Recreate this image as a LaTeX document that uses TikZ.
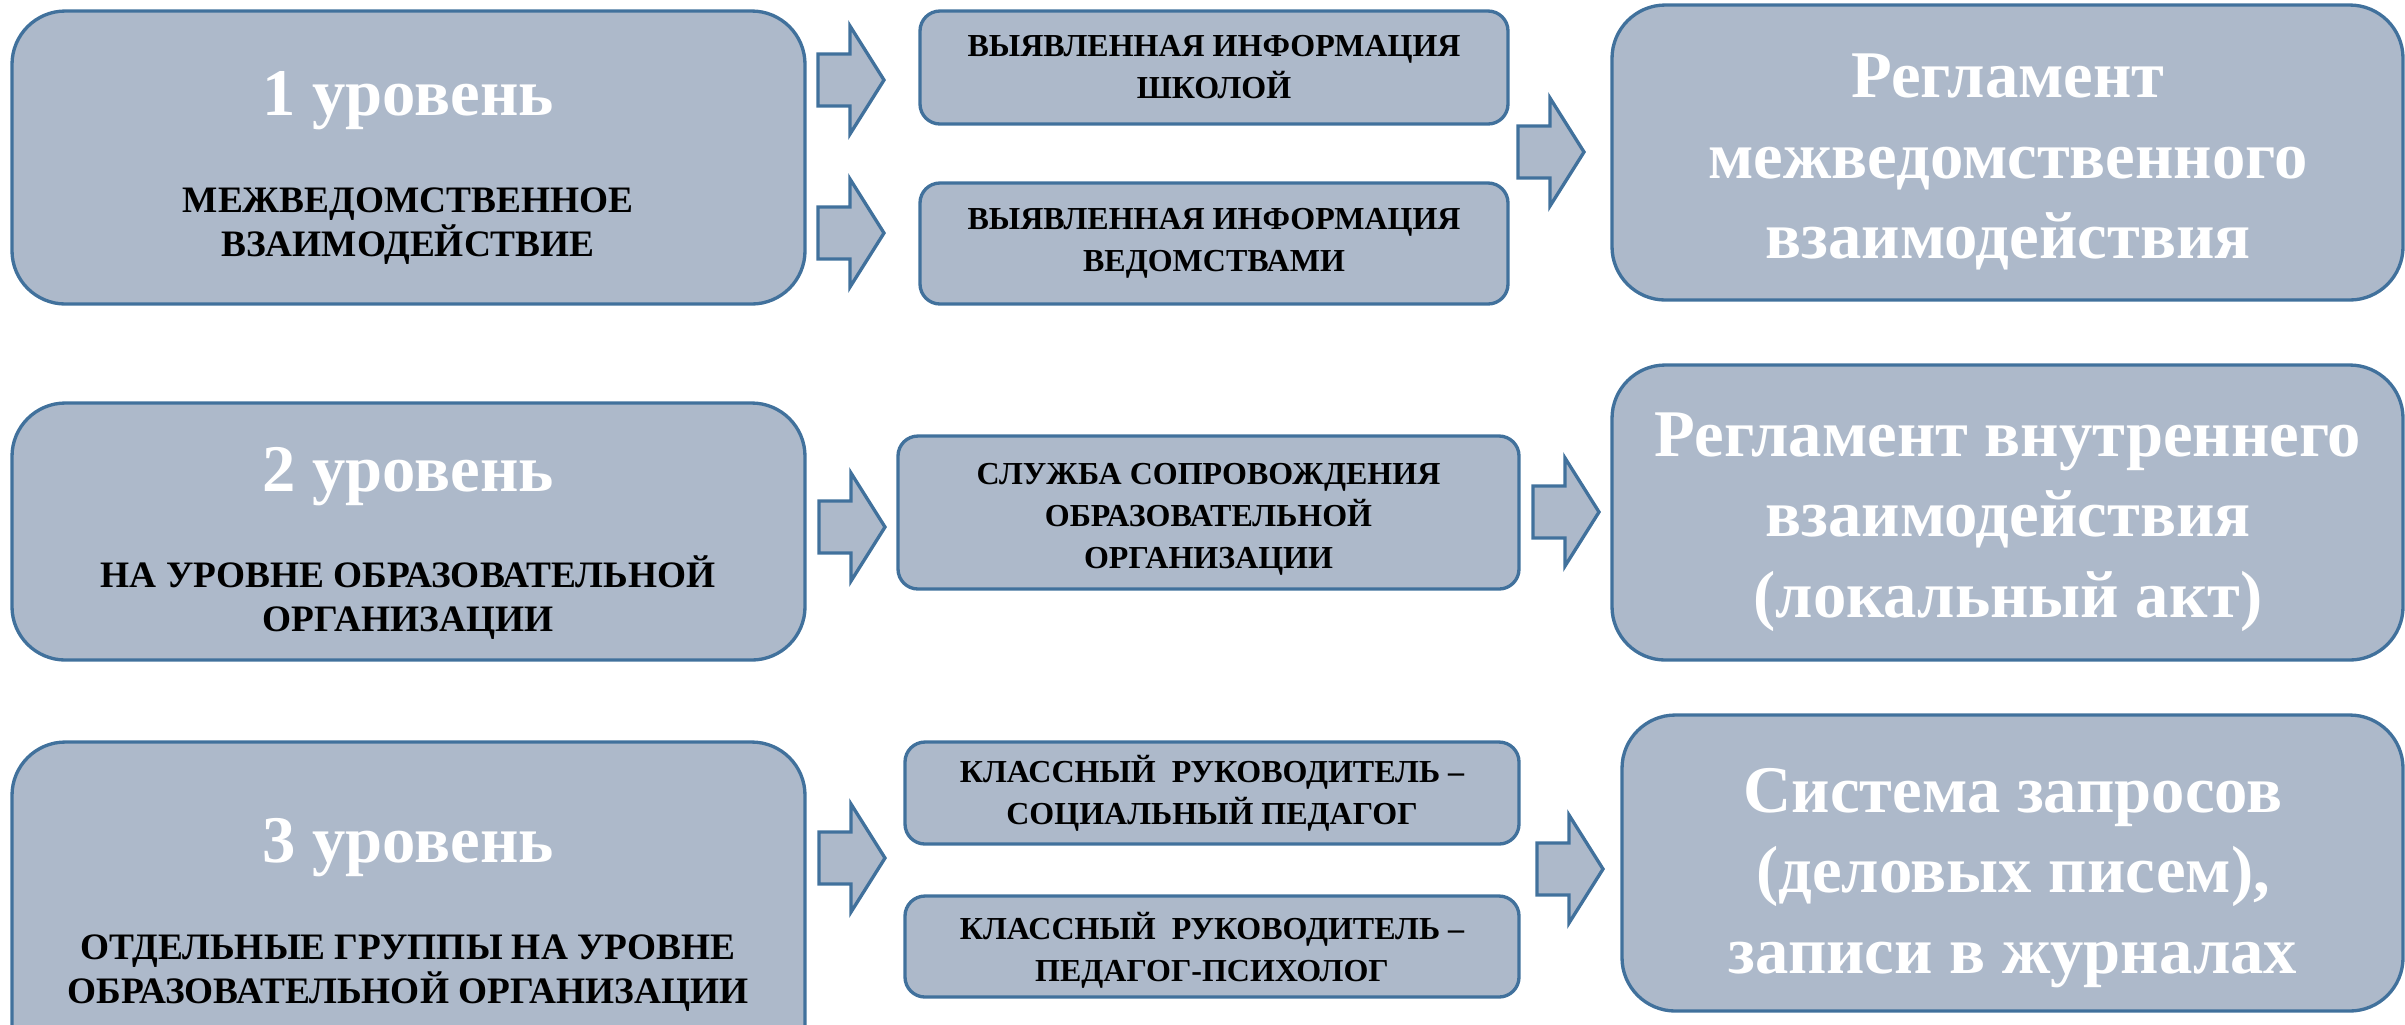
\documentclass[tikz,border=0pt]{standalone}
\usepackage{fontspec}
\setmainfont{Liberation Serif}
\usetikzlibrary{fit}
\definecolor{boxFill}{HTML}{ADB9CA}
\definecolor{boxLine}{HTML}{41719C}
\newcommand{\bigSize}{\fontsize{20}{24.2}\selectfont}
\newcommand{\midSize}{\fontsize{9.6}{12.6}\selectfont}
\newcommand{\smallSize}{\fontsize{11.2}{13.2}\selectfont}
% block arrow: #1 = left end x, #2 = centre y
\newcommand{\blockArrow}[2]{%
  \draw[arrowShape] (#1,#2-26) -- ++(32,0) -- ++(0,-28) -- ++(34,54)
    -- ++(-34,54) -- ++(0,-28) -- ++(-32,0) -- cycle;}

\begin{document}
\begin{tikzpicture}[x=0.3pt, y=-0.3pt]
  \tikzset{
    levelBox/.style={draw=boxLine, fill=boxFill, line width=1pt, inner sep=0pt, rounded corners=16pt},
    infoBox/.style={levelBox, rounded corners=6pt},
    bigLabel/.style={align=center, text=white, font=\bigSize\bfseries},
    smallLabel/.style={align=center, font=\smallSize\bfseries},
    infoLabel/.style={align=center, font=\midSize\bfseries},
    arrowShape/.style={draw=boxLine, fill=boxFill, line width=1pt, line join=miter}
  }
  \useasboundingbox (0,0) rectangle (2405,1024);
  \clip (0,0) rectangle (2405,1024);

  % levels
  \node[levelBox, fit={(12,11) (805,304)}] (lvl-1) {};
  \node[levelBox, fit={(12,403) (805,660)}] (lvl-2) {};
  \node[levelBox, fit={(12,742) (805,1080)}] (lvl-3) {};
  \node[bigLabel] (lvl-1-title) at (408,101) {1 уровень};
  \node[smallLabel] (lvl-1-text) at (408,226) {МЕЖВЕДОМСТВЕННОЕ\\ВЗАИМОДЕЙСТВИЕ};
  \node[bigLabel] (lvl-2-title) at (408,477) {2 уровень};
  \node[smallLabel] (lvl-2-text) at (408,598) {НА УРОВНЕ ОБРАЗОВАТЕЛЬНОЙ\\ОРГАНИЗАЦИИ};
  \node[bigLabel] (lvl-3-title) at (408,848) {3 уровень};
  \node[smallLabel] (lvl-3-text) at (408,973) {ОТДЕЛЬНЫЕ ГРУППЫ НА УРОВНЕ\\ОБРАЗОВАТЕЛЬНОЙ ОРГАНИЗАЦИИ};

  % sources
  \node[infoBox, fit={(920,11) (1508,124)}] (info-1-1) {};
  \node[infoBox, fit={(920,183) (1508,304)}] (info-1-2) {};
  \node[infoBox, fit={(898,436) (1519,589)}] (info-2-1) {};
  \node[infoBox, fit={(905,742) (1519,844)}] (info-3-1) {};
  \node[infoBox, fit={(905,896) (1519,997)}] (info-3-2) {};
  \node[infoLabel] (info-1-1-text) at (info-1-1.center) {ВЫЯВЛЕННАЯ ИНФОРМАЦИЯ\\ШКОЛОЙ};
  \node[infoLabel] (info-1-2-text) at (info-1-2.center) {ВЫЯВЛЕННАЯ ИНФОРМАЦИЯ\\ВЕДОМСТВАМИ};
  \node[infoLabel] (info-2-1-text) at ([yshift=-2pt]info-2-1.center) {СЛУЖБА СОПРОВОЖДЕНИЯ\\ОБРАЗОВАТЕЛЬНОЙ\\ОРГАНИЗАЦИИ};
  \node[infoLabel] (info-3-1-text) at (info-3-1.center) {КЛАССНЫЙ\ \ РУКОВОДИТЕЛЬ –\\СОЦИАЛЬНЫЙ ПЕДАГОГ};
  \node[infoLabel] (info-3-2-text) at ([yshift=-1pt]info-3-2.center) {КЛАССНЫЙ\ \ РУКОВОДИТЕЛЬ –\\ПЕДАГОГ-ПСИХОЛОГ};

  % rules
  \node[levelBox, fit={(1612,5) (2403,300)}] (rule-1) {};
  \node[levelBox, fit={(1612,365) (2403,660)}] (rule-2) {};
  \node[levelBox, fit={(1622,715) (2403,1011)}] (rule-3) {};
  \node[bigLabel] (rule-1-text) at (2008,162) {Регламент\\межведомственного\\взаимодействия};
  \node[bigLabel] (rule-2-text) at (2008,522) {Регламент внутреннего\\взаимодействия\\(локальный акт)};
  \node[bigLabel] (rule-3-text) at (2013,878) {Система запросов\\(деловых писем),\\записи в журналах};

  % arrows
  \blockArrow{818}{80}
  \blockArrow{818}{233}
  \blockArrow{1518}{152}
  \blockArrow{819}{527}
  \blockArrow{1533}{512}
  \blockArrow{819}{858}
  \blockArrow{1537}{869}
\end{tikzpicture}
\end{document}
